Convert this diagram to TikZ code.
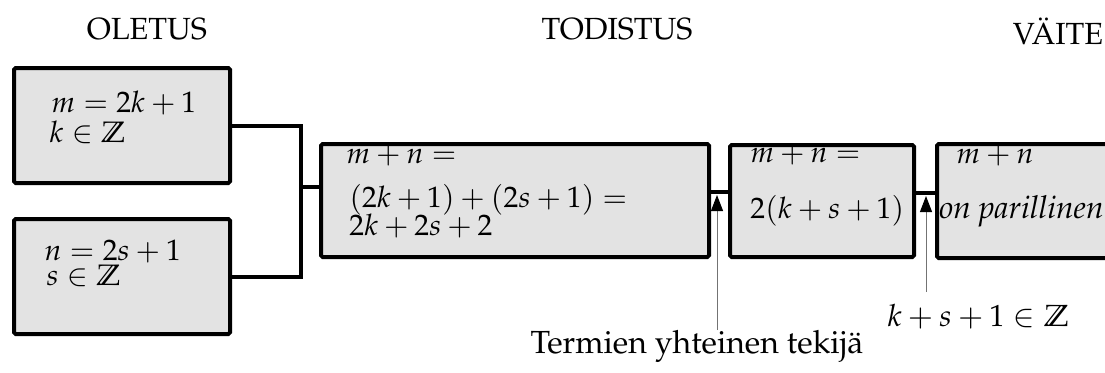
\documentclass[tikz,border=0pt]{standalone}
\usepackage[T1]{fontenc}
\usepackage{mathpazo}
\usetikzlibrary{arrows.meta}
\begin{document}
\begin{tikzpicture}[x=0.5pt,y=-0.5pt,
  box/.style={draw=black,fill=black!11,line width=2pt,rounded corners=0.8pt,anchor=north west,inner sep=0pt},
  conn/.style={line width=2pt,line join=miter},
  arr/.style={draw=black!55,line width=0.5pt,-{Triangle[width=6pt,length=8pt,color=black]}},
  txt/.style={anchor=base west,inner sep=0pt,font=\fontsize{14.8}{17}\selectfont},
  head/.style={anchor=base,inner sep=0pt,font=\fontsize{15.3}{18}\selectfont},
  lab/.style={anchor=base,inner sep=0pt,font=\fontsize{16}{19}\selectfont}]
\useasboundingbox (0,0) rectangle (1105,372);
\clip (0,0) rectangle (1105,372);
% headers
\node[head] (h1) at (147,39) {OLETUS};
\node[head] (h2) at (617,39) {TODISTUS};
\node[head] (h3) at (1058,44) {V\"AITE};
% boxes
\node[box,minimum width=108pt,minimum height=57.5pt] (b1) at (12,66) {};
\node[box,minimum width=108pt,minimum height=57.5pt] (b2) at (12,217) {};
\node[box,minimum width=194pt,minimum height=56.5pt] (b3) at (319,142) {};
\node[box,minimum width=92pt,minimum height=56pt] (b4) at (728,143) {};
\node[box,minimum width=100pt,minimum height=57pt] (b5) at (935,142) {};
% box texts
\node[txt] (m1) at (51,112) {$m=2k+1$};
\node[txt] (m2) at (49,142) {$k\in\mathbb{Z}$};
\node[txt] (n1) at (44,260) {$n=2s+1$};
\node[txt] (n2) at (46,285) {$s\in\mathbb{Z}$};
\node[txt] (p1) at (346,163) {$m+n=$};
\node[txt] (p2) at (349,207) {$(2k+1)+(2s+1)=$};
\node[txt] (p3) at (349,235) {$2k+2s+2$};
\node[txt] (q1) at (750,162) {$m+n=$};
\node[txt] (q2) at (750,218) {$2(k+s+1)$};
\node[txt] (r1) at (956,163) {$m+n$};
\node[txt,font=\fontsize{15.8}{18}\selectfont\itshape] (r2) at (939,218) {on parillinen};
% connectors
\coordinate (j) at (301,187);
\draw[conn] (b1.east) -| (j) |- (b2.east);
\draw[conn] (j) -- (j -| b3.west);
\coordinate (c1) at (717,192);
\coordinate (c2) at (926,193);
\draw[conn] (c1 -| b3.east) -- (c1 -| b4.west);
\draw[conn] (c2 -| b4.east) -- (c2 -| b5.west);
% labels and arrows
\node[lab] (t1) at (697,353) {Termien yhteinen tekij\"a};
\node[lab,anchor=base west,font=\fontsize{15.3}{18}\selectfont] (t2) at (887,326) {$k+s+1\in\mathbb{Z}$};
\coordinate (a1s) at (717,330);
\coordinate (a1) at (717,195);
\coordinate (a2s) at (926,292);
\coordinate (a2) at (926,196);
\draw[arr] (a1s) -- (a1);
\draw[arr] (a2s) -- (a2);
\end{tikzpicture}
\end{document}
